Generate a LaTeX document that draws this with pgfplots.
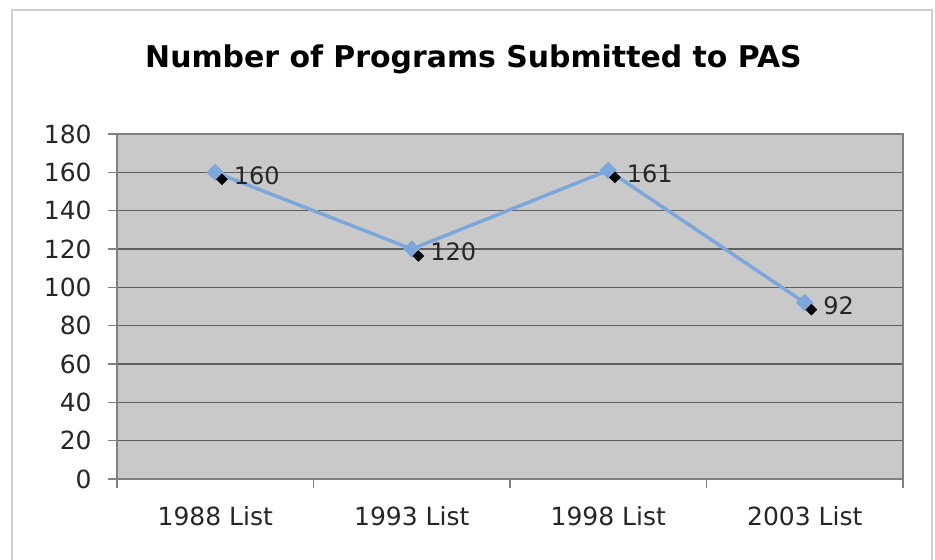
\documentclass[border=0pt]{standalone}
\usepackage{pgfplots}
\pgfplotsset{compat=1.18}
\usepackage{fontspec}
\setmainfont{DejaVu Sans}
\definecolor{plotgray}{HTML}{C9C9C9}
\definecolor{lineblue}{HTML}{7DA7DA}
\definecolor{gridc}{HTML}{5E5E5E}
\definecolor{framec}{HTML}{CFCFCF}
\begin{document}
\begin{tikzpicture}
\path[use as bounding box] (0,0) rectangle (467.5bp,280bp);
\fill[white] (0,0) rectangle (467.5bp,280bp);
\draw[framec, line width=1bp] (6bp,-5bp) rectangle (466bp,275bp);
\node[anchor=base, font=\fontsize{14.95bp}{17bp}\selectfont\bfseries] at (236.75bp,246bp) {Number of Programs Submitted to PAS};
\begin{axis}[
  at={(58.5bp,40.5bp)}, anchor=south west,
  width=393bp, height=172.5bp, scale only axis,
  xmin=-0.5, xmax=3.5, ymin=0, ymax=180,
  ytick={0,20,...,180},
  xtick={0,1,2,3},
  xticklabels={1988 List,1993 List,1998 List,2003 List},
  minor xtick={-0.5,0.5,1.5,2.5,3.5},
  tick pos=left,
  ymajorgrids,
  major grid style={gridc, line width=0.6bp},
  axis background/.style={fill=plotgray},
  axis line style={gray, line width=0.75bp},
  tick align=outside,
  major tick length=4.5bp, minor tick length=4.5bp,
  tick style={gray, line width=0.75bp},
  major x tick style={draw=none},
  tick label style={font=\fontsize{12.5bp}{15bp}\selectfont, text=black!85},
  /pgf/number format/assume math mode=true,
  xticklabel style={inner sep=0pt, anchor=north, yshift=-9bp},
  yticklabel style={inner sep=0pt, anchor=east, xshift=-8bp},
  clip=false,
]
\addplot[lineblue, line width=1.75bp, mark=diamond*, mark size=4bp,
  mark options={xscale=1.333, fill=lineblue, draw=lineblue, line width=0.5bp},
  nodes near coords, point meta=y,
  every node near coord/.style={anchor=west, xshift=9bp, yshift=-1.5bp, inner sep=0pt,
    font=\fontsize{12bp}{14bp}\selectfont, text=black!85}]
  coordinates {(0,160) (1,120) (2,161) (3,92)};
\addplot[only marks, mark=diamond*, mark size=2.6bp,
  mark options={xscale=1.333, fill=black, draw=black, xshift=2.5bp, yshift=-3.5bp}]
  coordinates {(0,160) (1,120) (2,161) (3,92)};
\end{axis}
\end{tikzpicture}
\end{document}
